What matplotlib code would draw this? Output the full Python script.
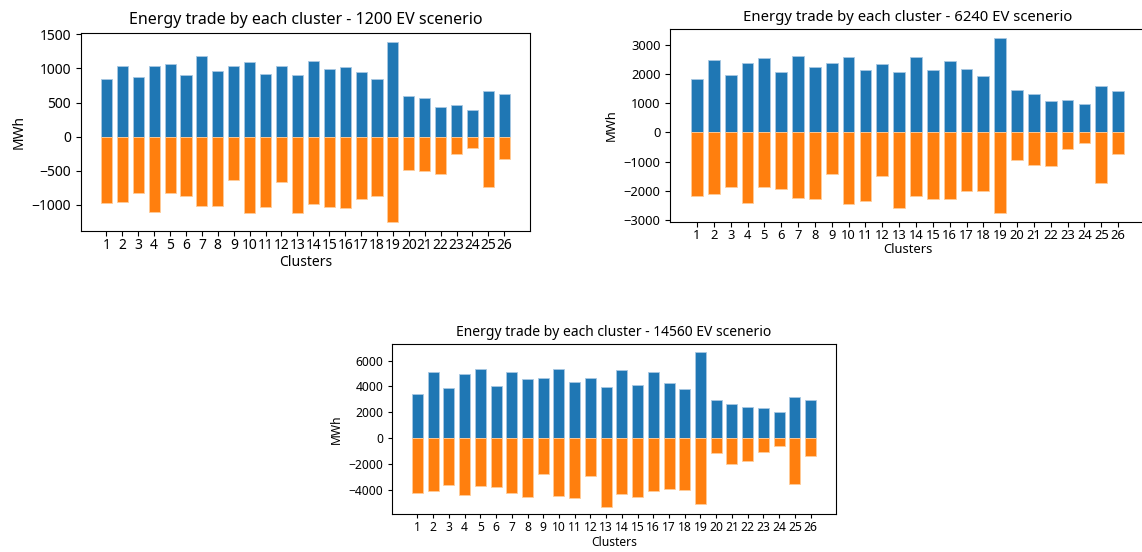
import matplotlib
matplotlib.use("Agg")
import matplotlib.pyplot as plt
from matplotlib.ticker import MultipleLocator
import numpy as np

plt.rcParams['font.family'] = ['Noto Sans', 'DejaVu Sans']

clusters = np.arange(1, 27)
tick_labels = [str(c) for c in clusters]

# 1200 EV scenario
sell_1200 = [838, 1039, 868, 1029, 1069, 907, 1176, 961, 1039, 1098, 922, 1029, 907,
             1113, 985, 1015, 951, 838, 1392, 598, 569, 436, 461, 392, 676, 623]
buy_1200 = [-980, -956, -824, -1103, -833, -873, -1025, -1025, -632, -1118, -1039, -672, -1118,
            -995, -1039, -1054, -917, -873, -1250, -485, -510, -549, -255, -172, -740, -333]

# 6240 EV scenario
sell_6240 = [1814, 2464, 1962, 2373, 2556, 2054, 2613, 2225, 2373, 2579, 2145, 2350, 2054,
             2579, 2145, 2430, 2168, 1928, 3229, 1438, 1312, 1073, 1107, 958, 1575, 1404]
buy_6240 = [-2168, -2111, -1848, -2407, -1848, -1940, -2225, -2259, -1403, -2442, -2339, -1483, -2579,
            -2168, -2259, -2259, -1997, -1997, -2750, -936, -1107, -1141, -548, -354, -1723, -719]

# 14560 EV scenario
sell_14560 = [3399, 5150, 3914, 4944, 5330, 4043, 5150, 4558, 4687, 5382, 4352, 4635, 3966,
              5253, 4120, 5150, 4300, 3785, 6669, 2961, 2627, 2446, 2369, 2009, 3219, 2961]
buy_14560 = [-4249, -4120, -3605, -4378, -3682, -3785, -4249, -4558, -2755, -4455, -4635, -2961, -5305,
             -4300, -4558, -4120, -3940, -3991, -5124, -1185, -1983, -1751, -1107, -644, -3528, -1416]

scenarios = ["1200", "6240", "14560"]
sells = [sell_1200, sell_6240, sell_14560]
buys = [buy_1200, buy_6240, buy_14560]
ystep = [500, 1000, 2000]

fig = plt.figure(figsize=(11.42, 5.52), dpi=100)
positions = [
    [0.0709, 0.582, 0.393, 0.3587],
    [0.5867, 0.5984, 0.416, 0.3486],
    [0.3435, 0.0683, 0.3883, 0.308],
]
# the three panels were pasted in at slightly different sizes
scales = [1.0, 0.93, 0.87]

for pos, name, sell, buy, step, s in zip(positions, scenarios, sells, buys, ystep, scales):
    ax = fig.add_axes(pos)
    ax.bar(clusters, sell, width=0.7, color='#1f77b4', edgecolor='#a8c8e2', linewidth=0.6)
    ax.bar(clusters, buy, width=0.7, color='#ff7f0e', edgecolor='#ffcc99', linewidth=0.6)
    ax.set_xticks(clusters)
    ax.set_xticklabels(tick_labels, fontsize=10 * s)
    ax.yaxis.set_major_locator(MultipleLocator(step))
    ax.tick_params(axis='y', labelsize=10 * s, length=3.5 * s)
    ax.tick_params(axis='x', pad=2, length=3.5 * s)
    ax.set_xlim(-0.6, 27.6)
    ax.set_xlabel("Clusters", fontsize=10 * s, labelpad=1)
    ax.set_ylabel("MWh", fontsize=10 * s)
    ax.set_title(f"Energy trade by each cluster - {name} EV scenerio", fontsize=11.5 * s)

fig.savefig("out.png", dpi=100)
